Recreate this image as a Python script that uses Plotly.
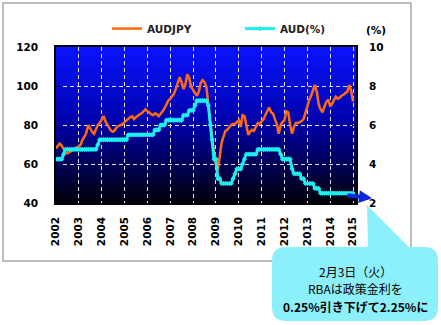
import base64
import pandas as pd
import plotly.graph_objects as go

# AUD/JPY monthly levels, Jan 2002 - Jan 2015
audjpy_2002 = [68.0, 69.5, 70.5, 69.5, 67.5, 66.0, 65.5, 66.0, 66.5, 67.5, 68.0, 68.5]
audjpy_2003 = [69.0, 70.0, 72.5, 74.0, 76.0, 80.0, 78.0, 76.5, 75.5, 77.5, 80.0, 81.0]
audjpy_2004 = [83.0, 84.5, 82.0, 80.0, 78.5, 77.0, 76.5, 77.5, 79.0, 79.5, 80.0, 80.5]
audjpy_2005 = [81.5, 82.5, 83.0, 84.0, 84.5, 83.0, 84.0, 85.0, 85.5, 86.0, 87.0, 88.0]
audjpy_2006 = [87.0, 86.5, 85.5, 85.0, 86.0, 85.5, 84.5, 85.5, 87.0, 88.5, 90.5, 92.5]
audjpy_2007 = [93.5, 95.0, 96.0, 98.5, 101.5, 104.5, 102.0, 98.5, 101.0, 106.0, 104.0, 99.5]
audjpy_2008 = [98.0, 96.5, 95.0, 97.0, 101.5, 103.0, 102.0, 99.5, 92.0, 82.0, 73.0, 66.0]
audjpy_2009 = [59.5, 57.0, 64.0, 71.0, 74.0, 77.0, 77.5, 79.0, 80.0, 80.5, 80.5, 81.5]
audjpy_2010 = [82.5, 79.0, 85.0, 84.5, 80.5, 75.0, 76.5, 77.5, 77.0, 79.0, 81.0, 80.5]
audjpy_2011 = [81.5, 83.0, 85.0, 87.0, 89.0, 86.5, 86.0, 83.0, 80.5, 75.5, 80.0, 81.5]
audjpy_2012 = [82.5, 87.0, 86.5, 80.0, 75.5, 79.0, 81.0, 81.0, 81.5, 82.0, 83.0, 86.5]
audjpy_2013 = [89.0, 93.0, 95.0, 98.0, 100.5, 97.0, 90.5, 88.0, 86.5, 89.5, 92.0, 93.0]
audjpy_2014 = [89.5, 91.0, 93.0, 94.5, 93.5, 94.0, 95.0, 95.5, 96.5, 97.0, 100.5, 97.5]
audjpy_2015 = [92.0]

# RBA cash rate target (%), month by month
rba_2002 = [4.25, 4.25, 4.25, 4.25, 4.50, 4.75, 4.75, 4.75, 4.75, 4.75, 4.75, 4.75]
rba_2003 = [4.75, 4.75, 4.75, 4.75, 4.75, 4.75, 4.75, 4.75, 4.75, 4.75, 5.00, 5.25]
rba_2004 = [5.25, 5.25, 5.25, 5.25, 5.25, 5.25, 5.25, 5.25, 5.25, 5.25, 5.25, 5.25]
rba_2005 = [5.25, 5.25, 5.50, 5.50, 5.50, 5.50, 5.50, 5.50, 5.50, 5.50, 5.50, 5.50]
rba_2006 = [5.50, 5.50, 5.50, 5.50, 5.75, 5.75, 5.75, 6.00, 6.00, 6.00, 6.25, 6.25]
rba_2007 = [6.25, 6.25, 6.25, 6.25, 6.25, 6.25, 6.25, 6.50, 6.50, 6.50, 6.75, 6.75]
rba_2008 = [6.75, 7.00, 7.25, 7.25, 7.25, 7.25, 7.25, 7.25, 7.00, 6.00, 5.25, 4.25]
rba_2009 = [4.25, 3.25, 3.25, 3.00, 3.00, 3.00, 3.00, 3.00, 3.00, 3.25, 3.50, 3.75]
rba_2010 = [3.75, 3.75, 4.00, 4.25, 4.50, 4.50, 4.50, 4.50, 4.50, 4.50, 4.75, 4.75]
rba_2011 = [4.75, 4.75, 4.75, 4.75, 4.75, 4.75, 4.75, 4.75, 4.75, 4.75, 4.50, 4.25]
rba_2012 = [4.25, 4.25, 4.25, 4.25, 3.75, 3.50, 3.50, 3.50, 3.50, 3.25, 3.25, 3.00]
rba_2013 = [3.00, 3.00, 3.00, 3.00, 2.75, 2.75, 2.75, 2.50, 2.50, 2.50, 2.50, 2.50]
rba_2014 = [2.50, 2.50, 2.50, 2.50, 2.50, 2.50, 2.50, 2.50, 2.50, 2.50, 2.50, 2.50]
rba_2015 = [2.50]

years = [str(y) for y in range(2002, 2016)]
new_rate = 2.25

audjpy = (audjpy_2002 + audjpy_2003 + audjpy_2004 + audjpy_2005 + audjpy_2006
          + audjpy_2007 + audjpy_2008 + audjpy_2009 + audjpy_2010 + audjpy_2011
          + audjpy_2012 + audjpy_2013 + audjpy_2014 + audjpy_2015)
rba = (rba_2002 + rba_2003 + rba_2004 + rba_2005 + rba_2006 + rba_2007
       + rba_2008 + rba_2009 + rba_2010 + rba_2011 + rba_2012 + rba_2013
       + rba_2014 + rba_2015)
months = pd.date_range("2002-01-01", periods=len(audjpy), freq="MS")

TICK_FONT = dict(family="DejaVu Sans", size=10.5, color="black", weight="bold")
GRID = dict(showgrid=True, gridcolor="#e0e0ee", gridwidth=1, griddash="4px,3px")
NOTE_FONT = dict(family="Noto Sans CJK JP", size=12, color="black")

fig = go.Figure()
fig.add_trace(go.Scatter(
    x=months, y=audjpy, name="AUDJPY", mode="lines",
    line=dict(color="#ff6a10", width=2.5),
))
fig.add_trace(go.Scatter(
    x=months, y=rba, name="AUD(%)", mode="lines+markers", yaxis="y2",
    line=dict(color="#1ef0f0", width=3),
    marker=dict(symbol="diamond", size=4, color="#1ef0f0"),
))

# blue-to-black vertical gradient behind the plotting area
svg = ('<svg xmlns="http://www.w3.org/2000/svg" width="10" height="100" preserveAspectRatio="none">'
       '<defs><linearGradient id="g" x1="0" y1="0" x2="0" y2="1">'
       '<stop offset="0" stop-color="#0a14ff"/>'
       '<stop offset="0.5" stop-color="#0000a6"/>'
       '<stop offset="1" stop-color="#000008"/>'
       '</linearGradient></defs><rect width="10" height="100" fill="url(#g)"/></svg>')
bg = "data:image/svg+xml;base64," + base64.b64encode(svg.encode()).decode()

# callout box geometry (paper units)
bx0, bx1, byt, byb = 0.72, 1.2733, -0.282, -0.7564
rx, ry = 0.0467, 0.0897
box_path = (f"M{bx0+rx},{byt} L{bx1-rx},{byt} Q{bx1},{byt} {bx1},{byt-ry} "
            f"L{bx1},{byb+ry} Q{bx1},{byb} {bx1-rx},{byb} L{bx0+rx},{byb} "
            f"Q{bx0},{byb} {bx0},{byb+ry} L{bx0},{byt-ry} Q{bx0},{byt} {bx0+rx},{byt} Z")
tail_path = "M1.0367,-0.0128 L1.04,-0.29 L1.18,-0.29 Z"

fig.update_layout(
    width=441, height=325,
    margin=dict(l=56, r=85, t=47, b=122),
    paper_bgcolor="white",
    plot_bgcolor="#000060",
    showlegend=True,
    legend=dict(orientation="h", x=0.17, y=1.211, xanchor="left", yanchor="top",
                entrywidth=88, entrywidthmode="pixels",
                font=dict(family="DejaVu Sans", size=10.5, color="#222", weight="bold"),
                bgcolor="rgba(0,0,0,0)"),
    xaxis=dict(type="date", range=["2002-01-01", "2015-02-17"],
               tickvals=[f"{y}-01-01" for y in years], ticktext=years,
               tickangle=-90, tickfont=TICK_FONT, ticklabelstandoff=8,
               showline=True, mirror=True, linecolor="black", linewidth=1.5,
               ticks="", **GRID),
    yaxis=dict(range=[40, 120], dtick=20, tickfont=TICK_FONT,
               ticks="inside", ticklen=4, tickcolor="black", ticklabelstandoff=14,
               showline=True, mirror=True, linecolor="black", linewidth=1.5,
               **GRID),
    yaxis2=dict(range=[2, 10], dtick=2, overlaying="y", side="right",
                tickfont=TICK_FONT, showgrid=False, ticks="inside", ticklen=4,
                tickcolor="black", ticklabelstandoff=12, showline=False),
    images=[dict(source=bg, xref="paper", yref="paper", x=0, y=1, sizex=1, sizey=1,
                 xanchor="left", yanchor="top", sizing="stretch", layer="below")],
    shapes=[
        dict(type="rect", xref="paper", yref="paper", x0=-0.1767, y0=-0.3718,
             x1=1.1833, y1=1.282, line=dict(color="#a8a8a8", width=1.5), layer="below"),
        dict(type="path", xref="paper", yref="paper", path=tail_path,
             fillcolor="#8cf0fa", line=dict(width=0), layer="above"),
        dict(type="path", xref="paper", yref="paper", path=box_path,
             fillcolor="#8cf0fa", line=dict(width=0), layer="above"),
    ],
    annotations=[
        dict(text="(%)", xref="paper", yref="paper", x=1.067, y=1.109,
             xanchor="center", yanchor="middle", showarrow=False, font=TICK_FONT),
        dict(text="", xref="paper", yref="y2", x=1.0533, y=new_rate,
             ax=-26, ay=-3, showarrow=True, arrowhead=2, arrowsize=0.65,
             arrowwidth=4, arrowcolor="#0b26e0"),
        dict(text="2月3日（火）", xref="paper", yref="paper", x=0.997, y=-0.436,
             xanchor="center", yanchor="middle", showarrow=False, font=NOTE_FONT),
        dict(text="RBAは政策金利を", xref="paper", yref="paper", x=0.997, y=-0.548,
             xanchor="center", yanchor="middle", showarrow=False, font=NOTE_FONT),
        dict(text=f"<b>0.25%引き下げて{new_rate}%に</b>", xref="paper", yref="paper",
             x=0.997, y=-0.663, xanchor="center", yanchor="middle",
             showarrow=False, font=NOTE_FONT),
    ],
)

fig.write_html("out.html")
